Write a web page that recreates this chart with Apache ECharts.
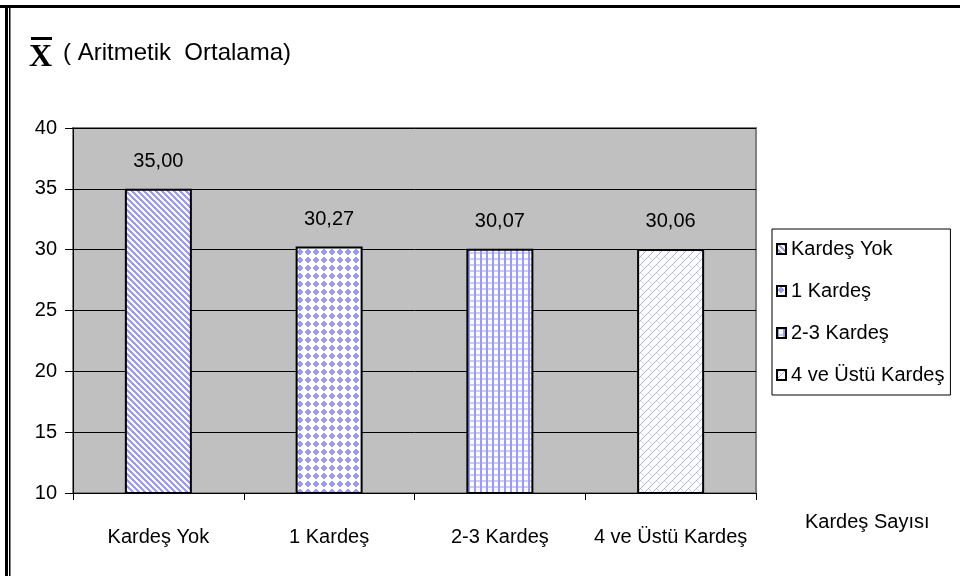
<!DOCTYPE html>
<html>
<head>
<meta charset="utf-8">
<script src="https://cdn.jsdelivr.net/npm/echarts@6/dist/echarts.min.js"></script>
<style>
    html, body { margin: 0; padding: 0; background: #fff; }
    #chart { width: 960px; height: 576px; }
</style>
</head>
<body>
<div id="chart"></div>
<script>
    // veriler
    const categories = ['Kardeş Yok', '1 Kardeş', '2-3 Kardeş', '4 ve Üstü Kardeş'];
    const means = [35.00, 30.27, 30.07, 30.06];
    const yMin = 10, yMax = 40, yStep = 5;
    const axisName = 'Kardeş Sayısı';

    const FONT = '"Liberation Sans", Arial, sans-serif';

    // tarama desenleri (excel tarzı)
    function makeTile(size, fn) {
        const c = document.createElement('canvas');
        c.width = size; c.height = size;
        const ctx = c.getContext('2d');
        for (let x = 0; x < size; x++) {
            for (let y = 0; y < size; y++) {
                ctx.fillStyle = fn(x, y);
                ctx.fillRect(x, y, 1, 1);
            }
        }
        return c;
    }
    const BLUE = '#9999ff', LIGHT = '#ccccff', WHITE = '#ffffff';
    const patterns = [
        makeTile(6, (x, y) => (((x - y) % 6 + 6) % 6) < 3 ? BLUE : WHITE),
        makeTile(8, (x, y) => (Math.abs(x - 3.5) + Math.abs(y - 3.5)) <= 3.5 ? BLUE : WHITE),
        makeTile(6, (x, y) => (x % 6) < 2 ? BLUE : ((y % 6) < 2 ? LIGHT : WHITE)),
        makeTile(8, (x, y) => ((x + y) % 8 === 0) ? '#aaaaff' : ((((x - y) % 8 + 8) % 8 === 0 && y % 8 < 4) ? LIGHT : WHITE))
    ];

    const series = categories.map((name, i) => ({
        name: name,
        type: 'bar',
        barWidth: 67,
        barGap: '-100%',
        data: means.map((v, j) => j === i ? v : '-'),
        itemStyle: {
            color: { image: patterns[i], repeat: 'repeat' },
            borderColor: '#000',
            borderWidth: 2
        },
        label: {
            show: true,
            position: 'top',
            distance: 17,
            color: '#000',
            fontFamily: FONT,
            fontSize: 20,
            formatter: p => p.value.toFixed(2).replace('.', ',')
        }
    }));

    const chart = echarts.init(document.getElementById('chart'));
    chart.setOption({
        animation: false,
        backgroundColor: '#fff',
        grid: {
            left: 73, right: 204, top: 128, bottom: 83,
            show: true,
            backgroundColor: '#c0c0c0',
            borderColor: '#808080',
            borderWidth: 2
        },
        legend: {
            orient: 'vertical',
            left: 772,
            top: 229,
            data: categories,
            icon: 'rect',
            itemWidth: 9,
            itemHeight: 10,
            itemGap: 22,
            padding: [10, 6, 10, 4],
            borderColor: '#000',
            borderWidth: 1,
            textStyle: { fontFamily: FONT, fontSize: 20, color: '#000' }
        },
        xAxis: {
            type: 'category',
            data: categories,
            name: axisName,
            nameLocation: 'end',
            nameGap: 49,
            nameTextStyle: {
                fontFamily: FONT, fontSize: 20, color: '#000',
                align: 'left', verticalAlign: 'top',
                lineHeight: 58
            },
            axisLine: { lineStyle: { color: '#000', width: 1 } },
            axisTick: { show: true, length: 7, alignWithLabel: false, lineStyle: { color: '#000' } },
            axisLabel: { interval: 0, fontFamily: FONT, fontSize: 20, color: '#000', margin: 34 }
        },
        yAxis: {
            type: 'value',
            min: yMin, max: yMax, interval: yStep,
            axisLine: { show: true, lineStyle: { color: '#000', width: 1 } },
            axisTick: { show: true, length: 8, lineStyle: { color: '#000' } },
            axisLabel: { fontFamily: FONT, fontSize: 20, color: '#000', margin: 16 },
            splitLine: { lineStyle: { color: '#000', width: 1 } }
        },
        graphic: [
            // çerçeve
            { type: 'rect', shape: { x: 0, y: 5, width: 960, height: 3 }, style: { fill: '#000' } },
            { type: 'rect', shape: { x: 5, y: 5, width: 3, height: 571 }, style: { fill: '#000' } },
            { type: 'rect', shape: { x: 9, y: 8, width: 1.5, height: 568 }, style: { fill: '#000' } },
            // başlık: X ortalama
            { type: 'rect', shape: { x: 31, y: 37, width: 21, height: 3 }, style: { fill: '#000' } },
            { type: 'text', left: 29, top: 42, style: { text: 'X', font: 'bold 32px "Liberation Serif", serif', fill: '#000' } },
            { type: 'text', left: 63, top: 41, style: { text: '( Aritmetik  Ortalama)', font: '24px ' + FONT, fill: '#000' } }
        ],
        series: series
    });
</script>
</body>
</html>
